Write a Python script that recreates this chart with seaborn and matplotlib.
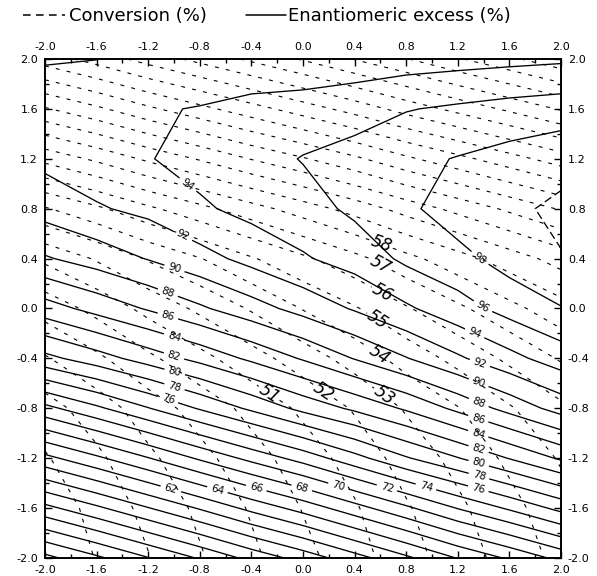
import numpy as np
import seaborn as sns
import matplotlib
matplotlib.use("Agg")
import matplotlib.pyplot as plt
from matplotlib.lines import Line2D
from matplotlib.ticker import MultipleLocator, FormatStrFormatter

sns.set_theme(style="ticks")
plt.rcParams['font.family'] = ['DejaVu Sans']
plt.rcParams['axes.unicode_minus'] = False
plt.rcParams['text.color'] = 'black'
plt.rcParams['xtick.color'] = 'black'
plt.rcParams['ytick.color'] = 'black'

# grid nodes the two surfaces were read at (rows listed top to bottom)
x_nodes = [-2.0, -1.6, -1.2, -0.8, -0.4, 0.0, 0.4, 0.8, 1.2, 1.6, 2.0]
y_nodes = [2.0, 1.6, 1.2, 0.8, 0.4, 0.0, -0.4, -0.8, -1.2, -1.6, -2.0]

# enantiomeric excess (%) at the nodes
ee_rows = [
    [91.9, 91.98, 92.3, 92.5, 92.6, 92.7, 92.9, 93.1, 93.3, 93.5, 93.7],
    [92.7, 93.2, 93.8, 94.1, 94.6, 94.8, 95.2, 95.9, 96.3, 96.7, 97.0],
    [92.5, 93.2, 93.9, 94.7, 95.2, 96.1, 96.7, 97.5, 98.1, 98.7, 99.3],
    [90.8, 91.8, 92.5, 93.7, 94.6, 95.2, 96.4, 97.6, 99.0, 99.6, 100.4],
    [87.8, 88.9, 90.1, 91.3, 92.6, 93.8, 94.8, 96.4, 97.4, 98.8, 99.9],
    [83.1, 84.7, 86.2, 87.7, 89.2, 90.7, 92.2, 93.7, 95.2, 96.7, 97.9],
    [77.4, 79.1, 80.9, 82.6, 84.4, 86.2, 88.1, 89.9, 91.7, 93.4, 95.0],
    [69.4, 71.6, 73.9, 76.2, 78.4, 80.6, 82.4, 84.3, 86.5, 88.7, 90.8],
    [61.4, 63.6, 65.9, 68.3, 70.6, 72.8, 75.3, 77.8, 79.9, 82.1, 84.3],
    [53.4, 55.6, 57.9, 60.2, 62.6, 64.8, 67.2, 69.6, 72.1, 74.3, 76.6],
    [45.4, 47.6, 49.9, 52.2, 54.6, 56.8, 59.2, 61.6, 64.1, 66.3, 68.6],
]

# conversion (%) at the nodes
conv_rows = [
    [64.5, 65.4, 66.4, 67.3, 68.2, 69.1, 70.05, 70.95, 71.9, 72.8, 73.7],
    [60.9, 61.8, 62.8, 63.7, 64.6, 65.5, 66.4, 67.4, 68.3, 69.2, 70.1],
    [57.3, 58.2, 59.2, 60.1, 61.05, 61.9, 62.8, 63.8, 64.7, 65.6, 66.5],
    [53.9, 54.8, 55.8, 56.7, 57.6, 58.5, 59.4, 60.4, 61.3, 62.2, 63.1],
    [51.2, 52.1, 53.1, 53.95, 54.9, 55.8, 56.7, 57.7, 58.6, 59.5, 60.4],
    [49.4, 50.3, 51.3, 52.2, 53.1, 54.05, 54.9, 55.9, 56.8, 57.7, 58.6],
    [47.9, 48.8, 49.8, 50.7, 51.6, 52.5, 53.4, 54.4, 55.3, 56.2, 57.1],
    [46.6, 47.5, 48.5, 49.4, 50.3, 51.2, 52.1, 53.1, 53.95, 54.9, 55.8],
    [45.9, 46.8, 47.8, 48.7, 49.6, 50.5, 51.4, 52.4, 53.3, 54.2, 55.1],
    [45.4, 46.3, 47.3, 48.2, 49.1, 50.05, 50.9, 51.9, 52.8, 53.7, 54.6],
    [45.1, 46.05, 46.95, 47.9, 48.8, 49.7, 50.6, 51.6, 52.5, 53.4, 54.3],
]

ee_levels = list(range(46, 99, 2))
ee_top_level = [100]
conv_levels = list(range(45, 74))

# where the contour labels sit
ee_label_spots = [(-0.91, 0.97), (-0.95, 0.55), (-1.0, 0.31), (-1.05, 0.12),
                  (-1.05, -0.07), (-1.0, -0.23), (-1.0, -0.38), (-1.0, -0.53),
                  (-1.0, -0.64), (-1.05, -0.74),
                  (-1.02, -1.43), (-0.66, -1.44), (-0.36, -1.43), (-0.01, -1.44),
                  (0.27, -1.44), (0.65, -1.44), (0.95, -1.44),
                  (1.36, 0.39), (1.39, 0.01), (1.33, -0.2), (1.37, -0.44),
                  (1.36, -0.6), (1.36, -0.76), (1.36, -0.88), (1.36, -1.0),
                  (1.36, -1.13), (1.36, -1.25), (1.36, -1.36), (1.36, -1.44)]
conv_label_spots = [(-0.23, -0.63), (0.17, -0.65), (0.65, -0.67), (0.6, -0.36),
                    (0.58, -0.09), (0.61, 0.11), (0.61, 0.37), (0.61, 0.53)]

x = np.array(x_nodes)
y = np.array(y_nodes)[::-1]
X, Y = np.meshgrid(x, y)
EE = np.array(ee_rows)[::-1]
CONV = np.array(conv_rows)[::-1]

fig = plt.figure(figsize=(5.97, 5.76), dpi=100)
ax = fig.add_axes([45 / 597, 1 - 558 / 576, 516 / 597, 499 / 576])

cs_conv = ax.contour(X, Y, CONV, levels=conv_levels, colors='black',
                     linewidths=0.8, linestyles='dashed')
cs_conv.set_linestyle([(0, (3.5, 6.5))])
cs_ee = ax.contour(X, Y, EE, levels=ee_levels, colors='black',
                   linewidths=0.95, linestyles='solid')
cs_top = ax.contour(X, Y, EE, levels=ee_top_level, colors='black',
                    linewidths=0.95, linestyles='dashed')
cs_top.set_linestyle([(0, (6, 3))])

ax.clabel(cs_ee, manual=ee_label_spots, fmt='%d', fontsize=7.5,
          inline=True, inline_spacing=4)
conv_txt = ax.clabel(cs_conv, manual=conv_label_spots, fmt='%d', fontsize=12,
                     inline=True, inline_spacing=2)
for t in conv_txt:
    t.set_fontstyle('italic')

ax.set_xlim(-2.0, 2.0)
ax.set_ylim(-2.0, 2.0)
for axis in (ax.xaxis, ax.yaxis):
    axis.set_major_locator(MultipleLocator(0.4))
    axis.set_minor_locator(MultipleLocator(0.2))
    axis.set_major_formatter(FormatStrFormatter('%.1f'))
ax.tick_params(which='both', direction='in', top=True, right=True,
               labeltop=True, labelright=True, color='black',
               labelcolor='black', width=1)
ax.tick_params(which='major', length=5, labelsize=8, pad=5)
ax.tick_params(which='minor', length=3)
for s in ax.spines.values():
    s.set_linewidth(1.4)
    s.set_color('black')

# two legend entries placed separately, as in the original heading
leg_conv = fig.legend([Line2D([], [], color='black', lw=1.1, linestyle=(0, (5, 3.5)))],
                      ['Conversion (%)'], loc='upper left',
                      bbox_to_anchor=(0.012, 1.016), frameon=False, fontsize=13,
                      handlelength=2.3, handletextpad=0.2, labelcolor='black')
leg_ee = fig.legend([Line2D([], [], color='black', lw=1.1)],
                    ['Enantiomeric excess (%)'], loc='upper left',
                    bbox_to_anchor=(0.385, 1.016), frameon=False, fontsize=13,
                    handlelength=2.2, handletextpad=0.1, labelcolor='black')

fig.savefig('out.png', dpi=100)
